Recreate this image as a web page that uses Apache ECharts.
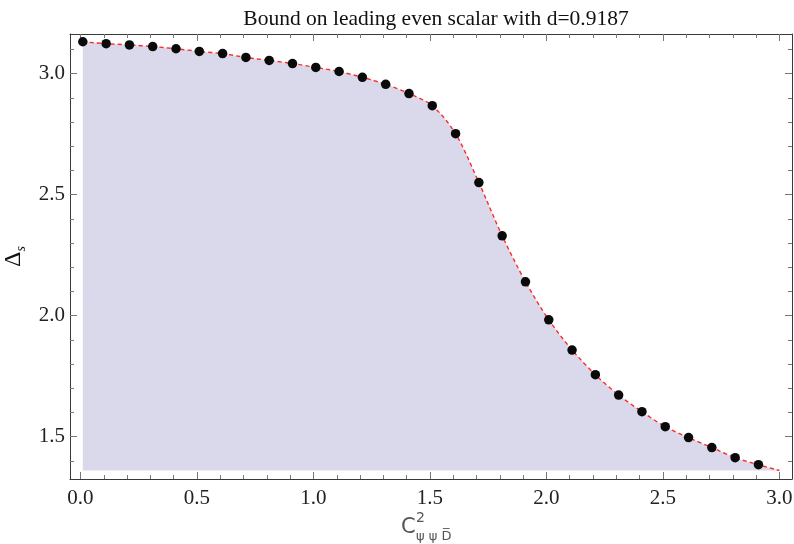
<!DOCTYPE html>
<html>
<head>
<meta charset="utf-8">
<script src="https://cdn.jsdelivr.net/npm/echarts@6/dist/echarts.min.js"></script>
<style>
	html, body { margin: 0; padding: 0; background: #fff; }
	#chart { width: 794px; height: 544px; }
</style>
</head>
<body>
<div id="chart"></div>
<script>
	// bound data points (x = C^2, y = Delta_s)
	var xs = [0.01, 0.11, 0.21, 0.31, 0.41, 0.51, 0.61, 0.71, 0.81, 0.91,
		1.01, 1.11, 1.21, 1.31, 1.41, 1.51, 1.61, 1.71, 1.81, 1.91,
		2.01, 2.11, 2.21, 2.31, 2.41, 2.51, 2.61, 2.71, 2.81, 2.91]
	var ys = [3.132, 3.124, 3.119, 3.112, 3.103, 3.092, 3.083, 3.067, 3.055, 3.042,
		3.026, 3.009, 2.985, 2.956, 2.918, 2.868, 2.752, 2.550, 2.330, 2.140,
		1.983, 1.858, 1.756, 1.672, 1.603, 1.541, 1.496, 1.455, 1.413, 1.384]
	// end of the interpolated curve
	var curveEnd = [3.0, 1.36]
	var fillBase = 1.36

	var title = 'Bound on leading even scalar with d=0.9187'
	var xMajor = [0, 0.5, 1.0, 1.5, 2.0, 2.5, 3.0]
	var xMinor = [0.1, 0.2, 0.3, 0.4, 0.6, 0.7, 0.8, 0.9, 1.1, 1.2, 1.3, 1.4,
		1.6, 1.7, 1.8, 1.9, 2.1, 2.2, 2.3, 2.4, 2.6, 2.7, 2.8, 2.9]
	var yMajor = [1.5, 2.0, 2.5, 3.0]
	var yMinor = [1.4, 1.6, 1.7, 1.8, 1.9, 2.1, 2.2, 2.3, 2.4, 2.6, 2.7, 2.8, 2.9, 3.1]

	var serif = '"Liberation Serif", "DejaVu Serif", serif'
	var frameColor = '#3a3a3a'
	var tickColor = '#777'

	var chart = echarts.init(document.getElementById('chart'))

	var pts = xs.map(function(x, i) { return [x, ys[i]] })
	var linePts = pts.concat([curveEnd])

	// one axis per (side, tick size)
	function makeX(pos, ticks, len, showLine, showLabel) {
		return {
			type: 'value', min: -0.045, max: 3.054, position: pos,
			axisLine: { show: showLine, onZero: false, lineStyle: { color: frameColor, width: 1 } },
			axisTick: { show: true, inside: true, length: len, customValues: ticks,
				lineStyle: { color: tickColor, width: 1 } },
			axisLabel: { show: showLabel, customValues: ticks, margin: 9,
				fontFamily: serif, fontSize: 21, color: '#222',
				formatter: function(v) { return v.toFixed(1) } },
			splitLine: { show: false }
		}
	}
	function makeY(pos, ticks, len, showLine, showLabel) {
		return {
			type: 'value', min: 1.325, max: 3.164, position: pos,
			axisLine: { show: showLine, onZero: false, lineStyle: { color: frameColor, width: 1 } },
			axisTick: { show: true, inside: true, length: len, customValues: ticks,
				lineStyle: { color: tickColor, width: 1 } },
			axisLabel: { show: showLabel, customValues: ticks, margin: 5,
				fontFamily: serif, fontSize: 21, color: '#222',
				formatter: function(v) { return v.toFixed(1) } },
			splitLine: { show: false }
		}
	}

	var yMain = makeY('left', yMajor, 7, true, true)
	yMain.name = '{d|Δ}{s|s}'
	yMain.nameLocation = 'middle'
	yMain.nameGap = 31
	yMain.nameTextStyle = {
		rich: {
			d: { fontFamily: serif, fontSize: 24, color: '#111', lineHeight: 28 },
			s: { fontFamily: serif, fontSize: 14, fontStyle: 'italic', color: '#111',
				verticalAlign: 'bottom', lineHeight: 14 }
		}
	}

	chart.setOption({
		animation: false,
		title: {
			text: title, left: 431, top: 3, textAlign: 'center',
			textStyle: { fontFamily: serif, fontSize: 21.5, fontWeight: 'normal', color: '#111' }
		},
		grid: { left: 70, right: 2, top: 34, bottom: 65, containLabel: false, outerBoundsMode: 'none' },
		xAxis: [
			makeX('bottom', xMajor, 7, true, true),
			makeX('bottom', xMinor, 4, false, false),
			makeX('top', xMajor, 7, true, false),
			makeX('top', xMinor, 4, false, false)
		],
		yAxis: [
			yMain,
			makeY('left', yMinor, 4, false, false),
			makeY('right', yMajor, 7, true, false),
			makeY('right', yMinor, 4, false, false)
		],
		graphic: [
			{ type: 'text', left: 401, top: 517,
				style: { text: 'C', fontFamily: '"DejaVu Sans", sans-serif', fontSize: 21, fill: '#555' } },
			{ type: 'text', left: 416, top: 511,
				style: { text: '2', fontFamily: '"DejaVu Sans", sans-serif', fontSize: 14, fill: '#555' } },
			{ type: 'text', left: 416, top: 530,
				style: { text: 'ψ ψ D\u0305', fontFamily: '"DejaVu Sans", sans-serif', fontSize: 13, fill: '#555' } }
		],
		series: [
			{
				name: 'curve', type: 'line', data: linePts,
				smooth: 0.3, showSymbol: false, symbol: 'none',
				lineStyle: { color: '#ff2a2a', width: 1.4, type: [4, 3] },
				areaStyle: { color: '#d9d9eb', opacity: 1, origin: fillBase },
				z: 2
			},
			{
				name: 'points', type: 'scatter', data: pts,
				symbolSize: 9.5,
				itemStyle: { color: '#0a0a0a', opacity: 1 },
				z: 3
			}
		]
	})
</script>
</body>
</html>
